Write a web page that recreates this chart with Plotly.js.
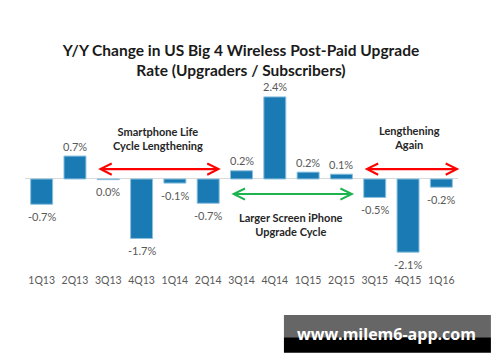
<!DOCTYPE html>
<html>
<head>
<meta charset="utf-8">
<script src="https://cdn.plot.ly/plotly-3.0.1.min.js"></script>
<style>html,body{margin:0;padding:0;background:#fff;}#chart{width:500px;height:362px;}</style>
</head>
<body>
<div id="chart"></div>
<script>
// Data
const quarters = ["1Q13","2Q13","3Q13","4Q13","1Q14","2Q14","3Q14","4Q14","1Q15","2Q15","3Q15","4Q15","1Q16"];
const changePct = [-0.74, 0.67, -0.02, -1.74, -0.12, -0.71, 0.24, 2.4, 0.2, 0.14, -0.54, -2.14, -0.24];
const changeLabels = ["-0.7%","0.7%","0.0%","-1.7%","-0.1%","-0.7%","0.2%","2.4%","0.2%","0.1%","-0.5%","-2.1%","-0.2%"];
const titleText = "Y/Y Change in US Big 4 Wireless Post-Paid Upgrade<br>Rate (Upgraders / Subscribers)";
const noteLengthening = "Smartphone Life<br>Cycle Lengthening";
const noteAgain = "Lengthening<br>Again";
const noteIphone = "Larger Screen iPhone<br>Upgrade Cycle";
const watermark = "www.milem6-app.com";

const FONT = "Lato, 'Open Sans', sans-serif";

const trace = {
  type: "bar",
  x: quarters.map((q, i) => i),
  y: changePct,
  cliponaxis: false,
  marker: {color: "#1a7bb4", line: {color: "#8cc0de", width: 1}},
  hoverinfo: "skip"
};

function arrow(x0, x1, y, color) {
  return {
    xref: "x", yref: "y", axref: "x", ayref: "y",
    x: x1, y: y, ax: x0, ay: y,
    text: "", showarrow: true,
    arrowhead: 5, startarrowhead: 5, arrowside: "end+start",
    arrowsize: 1, startarrowsize: 1, arrowwidth: 2.2, arrowcolor: color
  };
}

const noteFont = {family: FONT, size: 11, color: "#262626", weight: "bold"};

const valueLabels = changePct.map((v, i) => ({
  xref: "x", yref: "y", x: i, y: v, text: changeLabels[i], showarrow: false,
  xanchor: "center", yanchor: "middle", yshift: v >= 0 ? 10 : -12,
  font: {family: FONT, size: 11, color: "#595959"}
}));

const layout = {
  width: 500, height: 362,
  margin: {l: 25, r: 42, t: 88, b: 90},
  paper_bgcolor: "#ffffff", plot_bgcolor: "#ffffff",
  showlegend: false,
  bargap: 0.34,
  title: {
    text: "<b>" + titleText + "</b>",
    font: {family: FONT, size: 15.5, color: "#1a1a1a"},
    xref: "container", yref: "container",
    x: 0.482, y: 0.845, xanchor: "center", yanchor: "middle"
  },
  xaxis: {
    type: "linear",
    range: [-0.5, quarters.length - 0.5],
    tickmode: "array",
    tickvals: quarters.map((q, i) => i),
    ticktext: quarters,
    showgrid: false, zeroline: false, showline: false, ticks: "",
    tickfont: {family: FONT, size: 10.5, color: "#595959"},
    fixedrange: true
  },
  yaxis: {
    range: [-2.72, 2.66],
    showgrid: false, showticklabels: false, ticks: "",
    zeroline: true, zerolinecolor: "#d9d9d9", zerolinewidth: 1,
    showline: false, fixedrange: true
  },
  shapes: [
    {type: "rect", xref: "paper", yref: "paper", x0: 0.598, x1: 1.076, y0: -0.234, y1: -0.355,
     fillcolor: "#666666", line: {width: 0}, layer: "below"},
    {type: "rect", xref: "paper", yref: "paper", x0: 0.598, x1: 1.076, y0: -0.355, y1: -0.439,
     fillcolor: "#000000", line: {width: 0}, layer: "below"}
  ],
  annotations: valueLabels.concat([
    arrow(1.65, 5.38, 0.29, "#ff0000"),
    arrow(9.65, 12.54, 0.29, "#ff0000"),
    arrow(5.65, 9.38, -0.44, "#1db34f"),
    {xref: "x", yref: "y", x: 3.49, y: 1.18, text: noteLengthening, showarrow: false,
     font: noteFont, align: "center"},
    {xref: "x", yref: "y", x: 11.04, y: 1.21, text: noteAgain, showarrow: false,
     font: noteFont, align: "center"},
    {xref: "x", yref: "y", x: 7.49, y: -1.33, text: noteIphone, showarrow: false,
     font: noteFont, align: "center"},
    {xref: "paper", yref: "paper", x: 0.834, y: -0.337, xanchor: "center", yanchor: "middle",
     text: watermark, showarrow: false,
     font: {family: "'Open Sans', sans-serif", size: 16, color: "#ffffff", weight: "bold"}}
  ])
};

Plotly.newPlot("chart", [trace], layout, {displayModeBar: false, staticPlot: true});
</script>
</body>
</html>
